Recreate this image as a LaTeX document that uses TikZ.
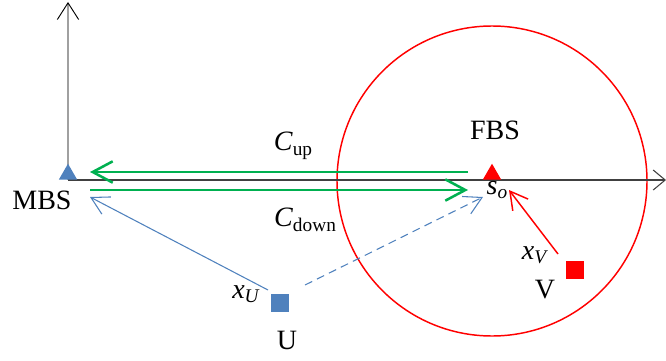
\documentclass[tikz,border=0pt]{standalone}
\usepackage{fontspec}
\setmainfont{Liberation Serif}
\usetikzlibrary{arrows.meta,shapes.geometric}
\definecolor{mbsblue}{RGB}{79,129,189}
\definecolor{linkgreen}{RGB}{0,176,80}
\definecolor{fbsred}{RGB}{255,0,0}
\definecolor{axisgray}{RGB}{64,64,64}
\definecolor{lightaxis}{RGB}{160,160,160}
\newcommand{\lowsub}[1]{\raisebox{-0.35ex}{\fontsize{14.5}{15}\selectfont #1}}
\begin{document}
\begin{tikzpicture}[x=0.75pt,y=-0.75pt,
  lbl/.style={font=\fontsize{21}{24}\selectfont, inner sep=0pt},
  tri/.style={regular polygon, regular polygon sides=3, minimum size=16pt, inner sep=0pt, anchor=south},
  sq/.style={rectangle, minimum size=12.8pt, inner sep=0pt},
  greenarrow/.style={linkgreen, line width=1.9pt, -{Straight Barb[length=15pt,width=16pt]}},
  thinbarb/.style={-{Straight Barb[length=13pt,width=14.5pt]}},
  bluelink/.style={mbsblue, line width=0.8pt, thinbarb},
  redlink/.style={fbsred, line width=1.1pt, thinbarb}]
\useasboundingbox (0,0) rectangle (666,360);
% reference points
\coordinate (ytip) at (68,2);
\coordinate (xtip) at (666,180);
\coordinate (upstart) at (468,172);
\coordinate (uptip) at (90,172);
\coordinate (downstart) at (90,190);
\coordinate (downtip) at (468,190);
\coordinate (mbsin) at (90,197);
\coordinate (uout) at (268,290);
\coordinate (udash) at (305,285);
\coordinate (soin) at (483,197);
\coordinate (vout) at (558,254);
\coordinate (sored) at (509,190);
% circle (coverage of FBS)
\draw[fbsred, line width=1.1pt] (492,181) circle[radius=155];
% axes
\draw[lightaxis, line width=0.9pt, -{Straight Barb[color=black,length=12.5pt,width=16pt,line width=0.7pt]}] (68,180) -- (ytip);
\draw[axisgray, line width=0.8pt, -{Straight Barb[length=9pt,width=15pt]}] (68,180) -- (xtip);
% base stations
\node[tri, fill=mbsblue] (mbs) at (68,180) {};
\node[tri, fill=fbsred] (fbs) at (492,180) {};
% users
\node[sq, fill=mbsblue] (u) at (280,303) {};
\node[sq, fill=fbsred] (v) at (575,270) {};
% labels
\node[lbl] (mbsl) at (42,200) {MBS};
\node[lbl] (fbsl) at (495,130) {FBS};
\node[lbl] (ul) at (287,340) {U};
\node[lbl] (vl) at (545,290) {V};
\node[lbl] (cup) at (293,146) {\textit{C}\lowsub{up}};
\node[lbl] (cdown) at (305,220) {\textit{C}\lowsub{down}};
\node[lbl] (so) at (497,190) {\textit{s}\lowsub{\textit{o}}};
\node[lbl] (xu) at (246,294) {\textit{x}\lowsub{\textit{U}}};
\node[lbl] (xv) at (535,255) {\textit{x}\lowsub{\textit{V}}};
% backhaul links
\draw[greenarrow] (upstart) -- (uptip);
\draw[greenarrow] (downstart) -- (downtip);
% user links
\draw[bluelink] (uout) -- (mbsin);
\draw[bluelink, dash pattern=on 6pt off 4pt] (udash) -- (soin);
\draw[redlink] (vout) -- (sored);
\end{tikzpicture}
\end{document}
